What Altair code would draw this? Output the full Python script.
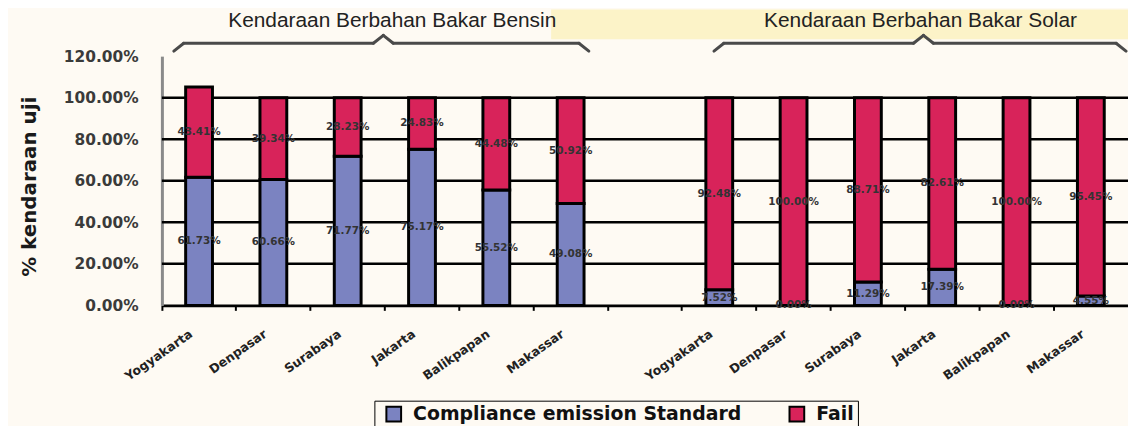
import altair as alt
import pandas as pd

# ---------------- data ----------------
cities = ["Yogyakarta", "Denpasar", "Surabaya", "Jakarta", "Balikpapan", "Makassar"]
bensin_pass = [61.73, 60.66, 71.77, 75.17, 55.52, 49.08]
bensin_fail = [43.41, 39.34, 28.23, 24.83, 44.48, 50.92]
solar_pass = [7.52, 0.00, 11.29, 17.39, 0.00, 4.55]
solar_fail = [92.48, 100.00, 88.71, 82.61, 100.00, 95.45]
series = ["Compliance emission Standard", "Fail"]
group_titles = ["Kendaraan Berbahan Bakar Bensin", "Kendaraan Berbahan Bakar Solar"]
y_ticks = [0, 20, 40, 60, 80, 100, 120]
grid_vals = [20, 40, 60, 80, 100]

colors = ["#7b83c1", "#d8235a"]

slots = [f"B|{c}" for c in cities] + ["gap"] + [f"S|{c}" for c in cities]

rows = []
for prefix, p, f in [("B", bensin_pass, bensin_fail), ("S", solar_pass, solar_fail)]:
    for c, pv, fv in zip(cities, p, f):
        key = f"{prefix}|{c}"
        rows.append(dict(slot=key, series=series[0], ord=0, v=pv / 100,
                         mid=pv / 200, label=f"{pv:.2f}%"))
        rows.append(dict(slot=key, series=series[1], ord=1, v=fv / 100,
                         mid=(pv + fv / 2) / 100, label=f"{fv:.2f}%"))
df = pd.DataFrame(rows)
grid_df = pd.DataFrame({"g": [g / 100 for g in grid_vals]})
dummy = pd.DataFrame({"d": [0]})

W, H = 973, 251
YTITLE = "% kendaraan uji"
yscale = alt.Scale(domain=[0, 1.2], nice=False)
xscale = alt.Scale(domain=slots, paddingInner=0, paddingOuter=0)

x_axis = alt.Axis(
    title=None,
    labelExpr="indexof(datum.label,'|')>=0 ? split(datum.label,'|')[1] : ''",
    labelAngle=-35, labelAlign="right", labelBaseline="middle",
    labelPadding=22, labelOffset=-8, bandPosition=0, labelOverlap=False,
    domainColor="black", domainWidth=3, tickColor="black", tickWidth=2, tickSize=5,
    labelFont="DejaVu Sans", labelFontWeight="bold", labelFontSize=12.5,
    labelColor="#222", grid=False,
)
y_axis = alt.Axis(
    values=[t / 100 for t in y_ticks], format=".2%", title=YTITLE, grid=False,
    domainColor="#8a8a8a", domainWidth=3, ticks=False, labelPadding=24,
    labelFont="DejaVu Sans", labelFontWeight="bold", labelFontSize=15.5,
    labelColor="#3a3a3a",
    titleFont="DejaVu Sans", titleFontWeight="bold", titleFontSize=20,
    titleColor="#1a1a1a", titleX=-127, titleY=131, titleBaseline="alphabetic",
)

# background yellow band behind second title
yellow = alt.Chart(dummy).mark_rect(color="#fcf3c8").encode(
    x=alt.value(392), x2=alt.value(W), y=alt.value(-47), y2=alt.value(-17))

grid = alt.Chart(grid_df).mark_rule(color="black", strokeWidth=2.5).encode(
    y=alt.Y("g:Q", scale=yscale, axis=y_axis, title=YTITLE))

bars = alt.Chart(df).mark_bar(size=27, stroke="black", strokeWidth=3).encode(
    x=alt.X("slot:N", scale=xscale, axis=x_axis),
    y=alt.Y("v:Q", stack="zero", scale=yscale, axis=y_axis, title=YTITLE),
    color=alt.Color("series:N", scale=alt.Scale(domain=series, range=colors),
                    title=None,
                    legend=alt.Legend(orient="none", legendX=214, legendY=347,
                                      direction="horizontal", strokeColor="black",
                                      padding=4, symbolType="square", symbolSize=220,
                                      symbolOffset=6,
                                      symbolStrokeColor="black", symbolStrokeWidth=2,
                                      labelFont="DejaVu Sans", labelFontWeight="bold",
                                      labelFontSize=19, labelColor="#111",
                                      labelLimit=0, columnPadding=40, labelOffset=10)),
    order=alt.Order("ord:Q"),
)

labels = alt.Chart(df).mark_text(font="DejaVu Sans", fontWeight="bold", fontSize=10.5,
                                 color="#333").encode(
    x=alt.X("slot:N", scale=xscale, axis=x_axis),
    y=alt.Y("mid:Q", scale=yscale, axis=y_axis, title=YTITLE),
    text="label:N",
)

# braces (decoration)
def brace(x0, x1, peak, yl=-13, ye=-5, yp=-21):
    segs = [(x0, ye, x0 + 10, yl), (x0 + 10, yl, peak - 10, yl),
            (peak - 10, yl, peak, yp), (peak, yp, peak + 10, yl),
            (peak + 10, yl, x1 - 10, yl), (x1 - 10, yl, x1, ye)]
    return [alt.Chart(dummy).mark_rule(color="#4a4a4a", strokeWidth=3,
                                       strokeCap="round").encode(
        x=alt.value(a), y=alt.value(b), x2=alt.value(c), y2=alt.value(d))
        for a, b, c, d in segs]

brace_layers = brace(12, 430, 223) + brace(556, 971, 767)

titles = [
    alt.Chart(dummy).mark_text(text=group_titles[0], font="Liberation Sans",
                               fontSize=21, color="#222").encode(
        x=alt.value(232), y=alt.value(-35)),
    alt.Chart(dummy).mark_text(text=group_titles[1], font="Liberation Sans",
                               fontSize=21, color="#222").encode(
        x=alt.value(764), y=alt.value(-35)),
]

chart = alt.layer(yellow, grid, bars, labels, *brace_layers, *titles).properties(
    width=W, height=H,
    autosize=alt.AutoSizeParams(type="none"),
    padding={"left": 155, "top": 47, "right": 0, "bottom": 120},
    background="#fefaf3",
).configure_view(stroke=None)

chart.save("out.html", embed_options={"renderer": "svg", "actions": False})
